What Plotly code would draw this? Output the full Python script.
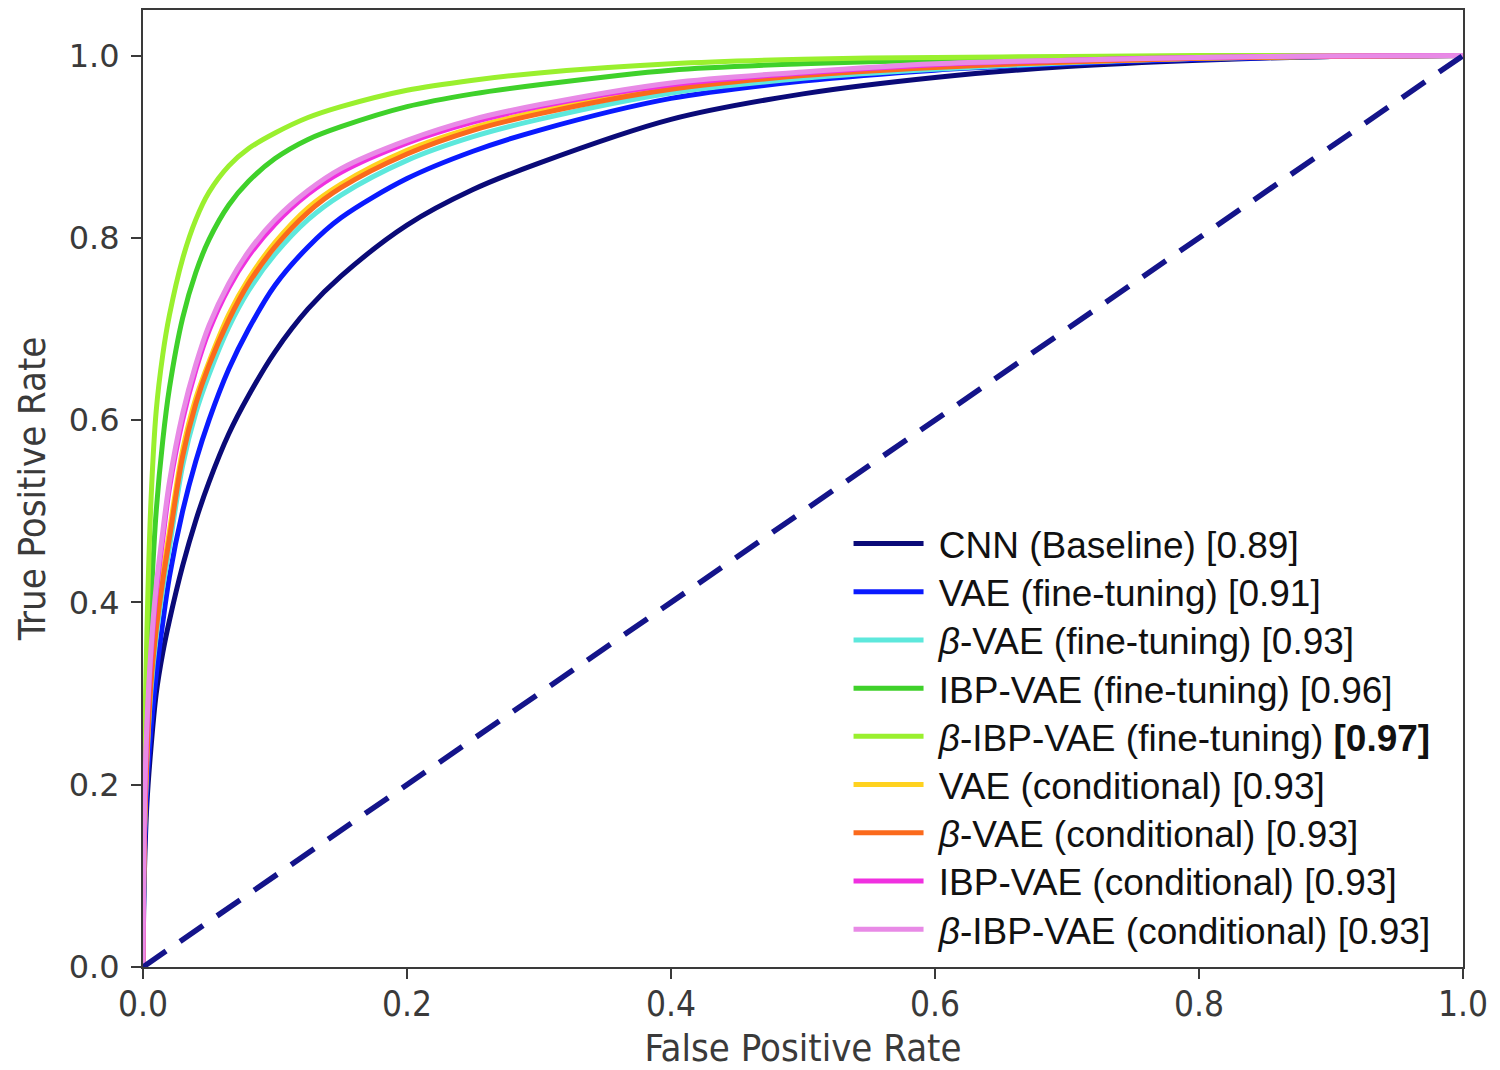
import plotly.graph_objects as go

# ---- data ----
fpr = [0, 0.001, 0.003, 0.006, 0.01, 0.015, 0.02, 0.03, 0.04, 0.05, 0.065, 0.08,
       0.1, 0.125, 0.15, 0.2, 0.25, 0.3, 0.4, 0.5, 0.6, 0.7, 0.8, 0.9, 1.0]

tpr_cnn = [0, 0.10, 0.18, 0.24, 0.30, 0.345, 0.38, 0.44, 0.49, 0.532, 0.585, 0.627,
           0.675, 0.722, 0.758, 0.814, 0.853, 0.882, 0.930, 0.958, 0.976, 0.988, 0.995, 0.999, 1.0]
tpr_vae_ft = [0, 0.12, 0.20, 0.26, 0.32, 0.378, 0.428, 0.50, 0.555, 0.60, 0.656, 0.70,
              0.748, 0.79, 0.822, 0.865, 0.895, 0.918, 0.953, 0.972, 0.984, 0.991, 0.996, 0.999, 1.0]
tpr_bvae_ft = [0, 0.135, 0.225, 0.303, 0.362, 0.415, 0.46, 0.55, 0.608, 0.65, 0.702, 0.742,
               0.782, 0.82, 0.847, 0.885, 0.911, 0.93, 0.959, 0.975, 0.985, 0.992, 0.997, 0.999, 1.0]
tpr_ibpvae_ft = [0, 0.20, 0.30, 0.40, 0.50, 0.578, 0.635, 0.712, 0.762, 0.798, 0.836, 0.862,
                 0.887, 0.908, 0.922, 0.944, 0.958, 0.968, 0.984, 0.991, 0.995, 0.997, 0.999, 1.0, 1.0]
tpr_bibpvae_ft = [0, 0.22, 0.37, 0.51, 0.61, 0.672, 0.715, 0.777, 0.82, 0.85, 0.879, 0.898,
                  0.915, 0.932, 0.944, 0.962, 0.973, 0.981, 0.991, 0.996, 0.998, 0.999, 1.0, 1.0, 1.0]
tpr_vae_cond = [0, 0.145, 0.236, 0.317, 0.377, 0.431, 0.478, 0.567, 0.624, 0.664, 0.716, 0.755,
                0.795, 0.833, 0.859, 0.896, 0.921, 0.939, 0.965, 0.979, 0.988, 0.993, 0.997, 0.9995, 1.0]
tpr_bvae_cond = [0, 0.14, 0.23, 0.31, 0.37, 0.424, 0.47, 0.56, 0.618, 0.66, 0.71, 0.75,
                 0.79, 0.828, 0.855, 0.892, 0.918, 0.936, 0.963, 0.978, 0.987, 0.993, 0.997, 0.999, 1.0]
tpr_ibpvae_cond = [0, 0.16, 0.26, 0.34, 0.41, 0.47, 0.525, 0.60, 0.655, 0.698, 0.745, 0.78,
                   0.815, 0.848, 0.872, 0.904, 0.927, 0.944, 0.968, 0.981, 0.990, 0.995, 0.998, 0.9995, 1.0]
tpr_bibpvae_cond = [0, 0.165, 0.267, 0.348, 0.418, 0.478, 0.532, 0.607, 0.661, 0.704, 0.75, 0.785,
                    0.82, 0.852, 0.876, 0.907, 0.93, 0.946, 0.970, 0.982, 0.991, 0.995, 0.998, 0.9995, 1.0]

series_names = [
    "CNN (Baseline) [0.89]",
    "VAE (fine-tuning) [0.91]",
    "<i>β</i>-VAE (fine-tuning) [0.93]",
    "IBP-VAE (fine-tuning) [0.96]",
    "<i>β</i>-IBP-VAE (fine-tuning) <b>[0.97]</b>",
    "VAE (conditional) [0.93]",
    "<i>β</i>-VAE (conditional) [0.93]",
    "IBP-VAE (conditional) [0.93]",
    "<i>β</i>-IBP-VAE (conditional) [0.93]",
]
series_values = [tpr_cnn, tpr_vae_ft, tpr_bvae_ft, tpr_ibpvae_ft, tpr_bibpvae_ft,
                 tpr_vae_cond, tpr_bvae_cond, tpr_ibpvae_cond, tpr_bibpvae_cond]
series_colors = ["#0a0a78", "#0a1aff", "#5de8dc", "#3fd12a", "#9af02e",
                 "#ffd21f", "#fb6a1c", "#f030e0", "#e88ae6"]

diag_x = [0, 1]
diag_y = [0, 1]

x_ticks = [0.0, 0.2, 0.4, 0.6, 0.8, 1.0]
y_ticks = [0.0, 0.2, 0.4, 0.6, 0.8, 1.0]

NARROW = "DejaVu Sans Condensed, Liberation Sans Narrow, DejaVu Sans"

# figure geometry
W, H = 1500, 1070
M_L, M_R, M_T, M_B = 143, 37, 10, 103
plot_h = H - M_T - M_B
legend_first_px = 544      # centre of first legend row (px from top)
legend_step_px = 48.2      # distance between legend rows

fig = go.Figure()
legend_layouts = {}
for i, (name, vals, col) in enumerate(zip(series_names, series_values, series_colors)):
    lg = "legend" if i == 0 else f"legend{i + 1}"
    fig.add_trace(go.Scatter(x=fpr, y=vals, mode="lines", name="\u00a0" + name, legend=lg,
                             line=dict(color=col, width=5, shape="spline", smoothing=0.9)))
    centre_px = legend_first_px + i * legend_step_px
    legend_layouts[lg] = dict(
        x=0.5345, y=(H - M_B - centre_px) / plot_h, xanchor="left", yanchor="middle",
        bgcolor="rgba(0,0,0,0)", borderwidth=0, itemwidth=70,
        font=dict(family="Liberation Sans, Arial", size=37, color="#111111"))

fig.add_trace(go.Scatter(x=diag_x, y=diag_y, mode="lines", showlegend=False,
                         line=dict(color="#14148a", width=5.5, dash="28px,17px")))

axis_common = dict(showline=True, linecolor="#3a3a3a", linewidth=2, mirror=True,
                   ticks="outside", ticklen=10, tickwidth=2, tickcolor="#3a3a3a",
                   showgrid=False, zeroline=False, automargin=False)

fig.update_layout(
    width=W, height=H,
    margin=dict(l=M_L, r=M_R, t=M_T, b=M_B),
    paper_bgcolor="white", plot_bgcolor="white",
    xaxis=dict(range=[0, 1], tickvals=x_ticks, ticktext=[f"{v:.1f}" for v in x_ticks],
               tickfont=dict(family=NARROW, size=35, color="#3a3a3a"),
               ticklabelstandoff=-5,
               title=dict(text="False Positive Rate", standoff=26,
                          font=dict(family=NARROW, size=38, color="#3a3a3a")),
               **axis_common),
    yaxis=dict(range=[0, 1.05], tickvals=y_ticks, ticktext=[f"{v:.1f}" for v in y_ticks],
               tickfont=dict(family="DejaVu Sans", size=32, color="#3a3a3a"),
               ticklabelstandoff=5,
               title=dict(text="True Positive Rate", standoff=11,
                          font=dict(family=NARROW, size=38, color="#3a3a3a")),
               **axis_common),
    showlegend=True,
    **legend_layouts,
)

fig.write_html("out.html", config={"displayModeBar": False},
               post_script="document.body.style.margin='0px';")
